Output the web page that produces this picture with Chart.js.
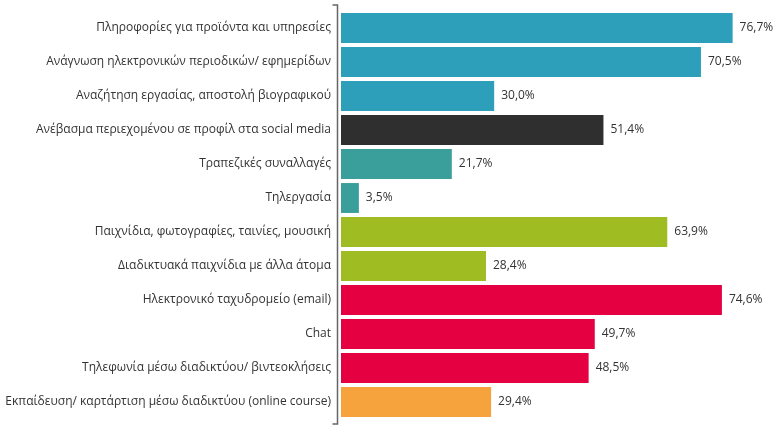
<!DOCTYPE html>
<html>
<head>
<meta charset="utf-8">
<script src="https://cdn.jsdelivr.net/npm/chart.js@4"></script>
<style>
  body { margin: 0; background: #fff; }
  #wrap { width: 776px; height: 426px; position: relative; }
</style>
</head>
<body>
<div id="wrap"><canvas id="myChart"></canvas></div>
<script>
const activities = [
  'Πληροφορίες για προϊόντα και υπηρεσίες',
  'Ανάγνωση ηλεκτρονικών περιοδικών/ εφημερίδων',
  'Αναζήτηση εργασίας, αποστολή βιογραφικού',
  'Ανέβασμα περιεχομένου σε προφίλ στα social media',
  'Τραπεζικές συναλλαγές',
  'Τηλεργασία',
  'Παιχνίδια, φωτογραφίες, ταινίες, μουσική',
  'Διαδικτυακά παιχνίδια με άλλα άτομα',
  'Ηλεκτρονικό ταχυδρομείο (email)',
  'Chat',
  'Τηλεφωνία μέσω διαδικτύου/ βιντεοκλήσεις',
  'Εκπαίδευση/ καρτάρτιση μέσω διαδικτύου (online course)'
]

const percentages = [76.7, 70.5, 30.0, 51.4, 21.7, 3.5, 63.9, 28.4, 74.6, 49.7, 48.5, 29.4]

const groups = ['info', 'info', 'info', 'social', 'finance', 'finance', 'fun', 'fun', 'comm', 'comm', 'comm', 'edu']

// colours per group
const groupColors = {
  info: '#2e9fba',
  social: '#2f2f2f',
  finance: '#3a9e9a',
  fun: '#9fbd22',
  comm: '#e50041',
  edu: '#f7a33d'
}

const textColor = '#333333'

// the bracket-like axis line left of the bars
let bracketPlugin = {
  id: 'bracket',
  afterDraw(chart) {
    let ctx = chart.ctx
    let area = chart.chartArea
    let x = area.left - 3.5
    let top = area.top - 6
    let bottom = area.bottom + 5
    ctx.save()
    ctx.strokeStyle = '#666666'
    ctx.lineWidth = 1.5
    ctx.beginPath()
    ctx.moveTo(x - 5, top)
    ctx.lineTo(x, top)
    ctx.lineTo(x, bottom)
    ctx.lineTo(x - 5, bottom)
    ctx.stroke()
    ctx.restore()
  }
}

let valueLabels = {
  id: 'valueLabels',
  afterDatasetsDraw(chart) {
    let ctx = chart.ctx
    let meta = chart.getDatasetMeta(0)
    ctx.save()
    ctx.font = '12px "Open Sans"'
    ctx.fillStyle = textColor
    ctx.textAlign = 'left'
    ctx.textBaseline = 'middle'
    meta.data.forEach((bar, i) => {
      let txt = percentages[i].toFixed(1).replace('.', ',') + '%'
      ctx.fillText(txt, bar.x + 7, bar.y)
    })
    ctx.restore()
  }
}

let data = {
  labels: activities,
  datasets: [{
    data: percentages,
    backgroundColor: groups.map(g => groupColors[g]),
    borderWidth: 0,
    categoryPercentage: 1,
    barPercentage: 0.88
  }]
}

let config = {
  type: 'bar',
  data: data,
  plugins: [bracketPlugin, valueLabels],
  options: {
    indexAxis: 'y',
    responsive: true,
    maintainAspectRatio: false,
    animation: false,
    layout: {
      padding: { top: 11, bottom: 7, right: 1, left: 0 }
    },
    scales: {
      x: {
        display: false,
        min: 0,
        max: 85
      },
      y: {
        afterFit(scale) {
          scale.width = 341
          scale.paddingTop = 0
          scale.paddingBottom = 0
        },
        grid: { display: false, drawTicks: false },
        border: { display: false },
        ticks: {
          padding: 10,
          color: textColor,
          font: { family: '"Open Sans"', size: 12 }
        }
      }
    },
    plugins: {
      legend: { display: false },
      tooltip: { enabled: false }
    }
  }
}

new Chart(document.getElementById('myChart'), config)
</script>
</body>
</html>
